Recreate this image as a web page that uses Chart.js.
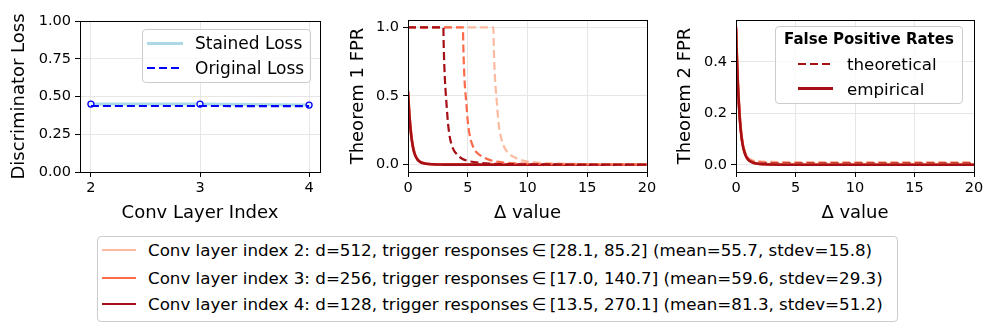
<!DOCTYPE html>
<html>
<head>
<meta charset="utf-8">
<script src="https://cdn.jsdelivr.net/npm/chart.js@4.4.1/dist/chart.umd.min.js"></script>
<style>
    body { margin: 0; background: #fff; width: 996px; height: 333px; position: relative; overflow: hidden;
           font-family: "DejaVu Sans", sans-serif; color: #000; }
    canvas { position: absolute; top: 0; }
    .legend { position: absolute; background: rgba(255,255,255,0.8); border: 1px solid #cccccc;
              border-radius: 4px; box-sizing: border-box; }
    .row { position: absolute; white-space: nowrap; height: 20px; line-height: 20px; }
    .handle { position: absolute; }
</style>
</head>
<body>
<canvas id="lossChart" width="330" height="230" style="left:0px"></canvas>
<canvas id="thm1Chart" width="330" height="230" style="left:330px"></canvas>
<canvas id="thm2Chart" width="336" height="230" style="left:660px"></canvas>
<div id="loss-legend" class="legend" style="left:142px;top:29px;width:169px;height:54px"></div>
<div id="fpr-legend" class="legend" style="left:775px;top:26px;width:188px;height:78px"></div>
<div id="layer-legend" class="legend" style="left:97px;top:236px;width:801px;height:86px"></div>

<script>
// discriminator loss per conv layer
const layerIndex = [2, 3, 4];
const stainedLoss = [0.45, 0.45, 0.443];
const originalLoss = [0.437, 0.437, 0.436];

// theorem 1 theoretical FPR (dashed), one x list per layer
const thm1X_L2 = [0, 7.15, 7.17, 7.23, 7.3, 7.42, 7.58, 7.78, 8.1, 8.4, 9.0, 9.6, 10.5, 12, 14, 17, 20];
const thm1Y_L2 = [1, 1, 0.9, 0.72, 0.6, 0.47, 0.3, 0.2, 0.12, 0.085, 0.05, 0.03, 0.018, 0.01, 0.006, 0.003, 0.002];
const thm1X_L3 = [0, 4.6, 4.62, 4.68, 4.74, 4.86, 5.02, 5.2, 5.5, 5.8, 6.4, 7.0, 8.0, 9.0, 10, 12, 15, 20];
const thm1Y_L3 = [1, 1, 0.9, 0.72, 0.6, 0.47, 0.3, 0.2, 0.12, 0.085, 0.05, 0.03, 0.016, 0.01, 0.007, 0.004, 0.002, 0.001];
const thm1X_L4 = [0, 2.96, 2.98, 3.04, 3.1, 3.2, 3.35, 3.5, 3.75, 4.0, 4.5, 5.0, 6, 7, 8, 10, 15, 20];
const thm1Y_L4 = [1, 1, 0.9, 0.72, 0.6, 0.47, 0.3, 0.2, 0.12, 0.085, 0.045, 0.028, 0.014, 0.008, 0.005, 0.003, 0.001, 0.0005];

// empirical FPR (solid), shared by both theorem panels
const empX = [0, 0.05, 0.1, 0.15, 0.2, 0.3, 0.4, 0.5, 0.6, 0.8, 1.0, 1.25, 1.5, 2, 3, 5, 10, 20];
const empY_L2 = [0.54, 0.46, 0.39, 0.33, 0.28, 0.2, 0.142, 0.1, 0.072, 0.04, 0.023, 0.013, 0.008, 0.0035, 0.0012, 0.0004, 0, 0];
const empY_L3 = [0.535, 0.455, 0.385, 0.325, 0.275, 0.195, 0.138, 0.097, 0.07, 0.038, 0.022, 0.012, 0.007, 0.003, 0.001, 0.0003, 0, 0];
const empY_L4 = [0.53, 0.45, 0.38, 0.32, 0.27, 0.19, 0.135, 0.095, 0.068, 0.037, 0.021, 0.012, 0.007, 0.003, 0.001, 0.0003, 0, 0];

// theorem 2 theoretical FPR (dashed)
const thm2X = [0, 0.1, 0.2, 0.3, 0.4, 0.5, 0.6, 0.8, 1.0, 1.25, 1.5, 2, 3, 5, 10, 20];
const thm2Y_L2 = [0.54, 0.39, 0.28, 0.2, 0.145, 0.105, 0.077, 0.045, 0.029, 0.02, 0.016, 0.013, 0.011, 0.01, 0.01, 0.01];
const thm2Y_L3 = [0.535, 0.385, 0.275, 0.195, 0.14, 0.1, 0.073, 0.042, 0.026, 0.017, 0.013, 0.01, 0.008, 0.007, 0.007, 0.007];
const thm2Y_L4 = [0.53, 0.38, 0.27, 0.19, 0.135, 0.097, 0.07, 0.039, 0.023, 0.014, 0.01, 0.007, 0.005, 0.005, 0.005, 0.005];

// ticks and labels
const lossTicks = [0, 0.25, 0.5, 0.75, 1.0];
const deltaTicks = [0, 5, 10, 15, 20];
const thm1Ticks = [0, 0.5, 1.0];
const thm2Ticks = [0, 0.2, 0.4];
const layerColors = ['#fcbba1', '#fb6a4a', '#a50f15'];
const layerLabels = [
    'Conv layer index 2: d=512, trigger responses\u2009\u2208\u2009[28.1, 85.2] (mean=55.7, stdev=15.8)',
    'Conv layer index 3: d=256, trigger responses\u2009\u2208\u2009[17.0, 140.7] (mean=59.6, stdev=29.3)',
    'Conv layer index 4: d=128, trigger responses\u2009\u2208\u2009[13.5, 270.1] (mean=81.3, stdev=51.2)'
];
const fprTypes = ['theoretical', 'empirical'];

const FONT = '"DejaVu Sans", sans-serif';
const zip = (xs, ys) => xs.map((x, i) => ({ x, y: ys[i] }));

// matplotlib-like box around the plot area
const framePlugin = {
    id: 'frame',
    afterDatasetsDraw: (chart) => {
        const { ctx, chartArea: a } = chart;
        ctx.save();
        ctx.strokeStyle = '#000';
        ctx.lineWidth = 1;
        ctx.strokeRect(Math.round(a.left) + 0.5, Math.round(a.top) + 0.5,
                       Math.round(a.right - a.left), Math.round(a.bottom - a.top));
        ctx.restore();
    }
};

const axis = (cfg) => ({
    type: 'linear',
    min: cfg.min, max: cfg.max,
    afterBuildTicks: s => { s.ticks = cfg.ticks.map(v => ({ value: v })); },
    afterFit: s => { if (cfg.size) { if (s.isHorizontal()) s.height = cfg.size; else s.width = cfg.size; } },
    ticks: {
        color: '#000', font: { family: FONT, size: 14.5 }, padding: cfg.tickPad,
        maxRotation: 0, autoSkip: false,
        callback: v => cfg.digits != null ? Number(v).toFixed(cfg.digits) : String(v)
    },
    grid: { color: '#e6e6e6', lineWidth: 1, tickLength: 5, tickColor: '#000', drawTicks: true },
    border: { display: false },
    title: { display: true, text: cfg.title, color: '#000', font: { family: FONT, size: 18 },
             padding: cfg.titlePad }
});

const makeChart = (id, datasets, opts) => new Chart(document.getElementById(id), {
    type: 'line',
    data: { datasets },
    options: {
        responsive: false, animation: false, devicePixelRatio: 1,
        layout: { padding: { left: 0, top: opts.top, right: opts.right, bottom: 0 } },
        plugins: { legend: { display: false }, tooltip: { enabled: false } },
        elements: { point: { radius: 0 }, line: { cubicInterpolationMode: 'monotone' } },
        scales: { x: opts.x, y: opts.y }
    },
    plugins: [framePlugin]
});

const dashed = (data, color, order) => ({ data, borderColor: color, borderWidth: 2.2, borderDash: [8, 4],
                                          fill: false, pointRadius: 0, order });
const solid = (data, color, order) => ({ data, borderColor: color, borderWidth: 2.6,
                                         fill: false, pointRadius: 0, order });

// panel 1: discriminator loss
makeChart('lossChart', [
    { data: zip(layerIndex, stainedLoss), borderColor: '#add8e6', borderWidth: 3, fill: false,
      pointRadius: 3, pointBorderWidth: 1.3, pointBorderColor: '#0000ff', pointBackgroundColor: '#e8f4fa',
      cubicInterpolationMode: 'default', tension: 0, order: 2 },
    { data: zip(layerIndex, originalLoss), borderColor: '#0000ff', borderWidth: 2.2, borderDash: [8, 4],
      fill: false, pointRadius: 0, tension: 0, order: 1 }
], {
    top: 21, right: 10,
    x: axis({ min: 1.9, max: 4.1, ticks: layerIndex, size: 58, tickPad: 3, title: 'Conv Layer Index',
              titlePad: { top: 0, bottom: 6 } }),
    y: axis({ min: 0, max: 1, ticks: lossTicks, digits: 2, size: 80, tickPad: 4, title: 'Discriminator Loss',
              titlePad: { top: 9, bottom: 0 } })
});

// panel 2: theorem 1
makeChart('thm1Chart', [
    solid(zip(empX, empY_L2), layerColors[0], 6),
    solid(zip(empX, empY_L3), layerColors[1], 5),
    solid(zip(empX, empY_L4), layerColors[2], 4),
    dashed(zip(thm1X_L2, thm1Y_L2), layerColors[0], 3),
    dashed(zip(thm1X_L3, thm1Y_L3), layerColors[1], 2),
    dashed(zip(thm1X_L4, thm1Y_L4), layerColors[2], 1)
], {
    top: 20, right: 13,
    x: axis({ min: 0, max: 20, ticks: deltaTicks, size: 58, tickPad: 3, title: '\u0394 value',
              titlePad: { top: 0, bottom: 6 } }),
    y: axis({ min: -0.053, max: 1.053, ticks: thm1Ticks, digits: 1, size: 78, tickPad: 4, title: 'Theorem 1 FPR',
              titlePad: { top: 18, bottom: 0 } })
});

// panel 3: theorem 2
makeChart('thm2Chart', [
    dashed(zip(thm2X, thm2Y_L2), layerColors[0], 6),
    dashed(zip(thm2X, thm2Y_L3), layerColors[1], 5),
    dashed(zip(thm2X, thm2Y_L4), layerColors[2], 4),
    solid(zip(empX, empY_L2), layerColors[0], 3),
    solid(zip(empX, empY_L3), layerColors[1], 2),
    solid(zip(empX, empY_L4), layerColors[2], 1)
], {
    top: 20, right: 22,
    x: axis({ min: 0, max: 20, ticks: deltaTicks, size: 58, tickPad: 3, title: '\u0394 value',
              titlePad: { top: 0, bottom: 6 } }),
    y: axis({ min: -0.028, max: 0.562, ticks: thm2Ticks, digits: 1, size: 76, tickPad: 4, title: 'Theorem 2 FPR',
              titlePad: { top: 15, bottom: 0 } })
});

// html legends
const addRow = (box, cy, left, text, font) => {
    const row = document.createElement('div');
    row.className = 'row';
    row.style.top = (cy - 10) + 'px';
    row.style.left = left + 'px';
    row.style.font = font;
    row.textContent = text;
    box.appendChild(row);
    return row;
};
const addHandle = (box, cy, left, width, color, thick, isDashed) => {
    const h = document.createElement('div');
    h.className = 'handle';
    h.style.left = left + 'px';
    h.style.width = width + 'px';
    h.style.top = (cy - thick / 2) + 'px';
    h.style.height = thick + 'px';
    h.style.background = isDashed
        ? `repeating-linear-gradient(to right, ${color} 0 8px, transparent 8px 12px)`
        : color;
    box.appendChild(h);
};

const lossLegend = document.getElementById('loss-legend');
addHandle(lossLegend, 13, 4, 36, '#add8e6', 3, false);
addRow(lossLegend, 13, 52, 'Stained Loss', `17px ${FONT}`);
addHandle(lossLegend, 38, 4, 36, '#0000ff', 2, true);
addRow(lossLegend, 38, 52, 'Original Loss', `17px ${FONT}`);

const fprLegend = document.getElementById('fpr-legend');
const fprTitle = addRow(fprLegend, 12.5, 0, 'False Positive Rates', `bold 15px ${FONT}`);
fprTitle.style.width = '186px';
fprTitle.style.textAlign = 'center';
addHandle(fprLegend, 36.5, 22, 35, layerColors[2], 2, true);
addRow(fprLegend, 36.5, 71, fprTypes[0], `16.7px ${FONT}`);
addHandle(fprLegend, 61.5, 22, 35, layerColors[2], 2.5, false);
addRow(fprLegend, 61.5, 71, fprTypes[1], `16.7px ${FONT}`);

const layerLegend = document.getElementById('layer-legend');
[13, 41, 67].forEach((cy, i) => {
    addHandle(layerLegend, cy, 4, 34, layerColors[i], 2.5, false);
    addRow(layerLegend, cy, 50, layerLabels[i], `16.7px ${FONT}`);
});
</script>
</body>
</html>
